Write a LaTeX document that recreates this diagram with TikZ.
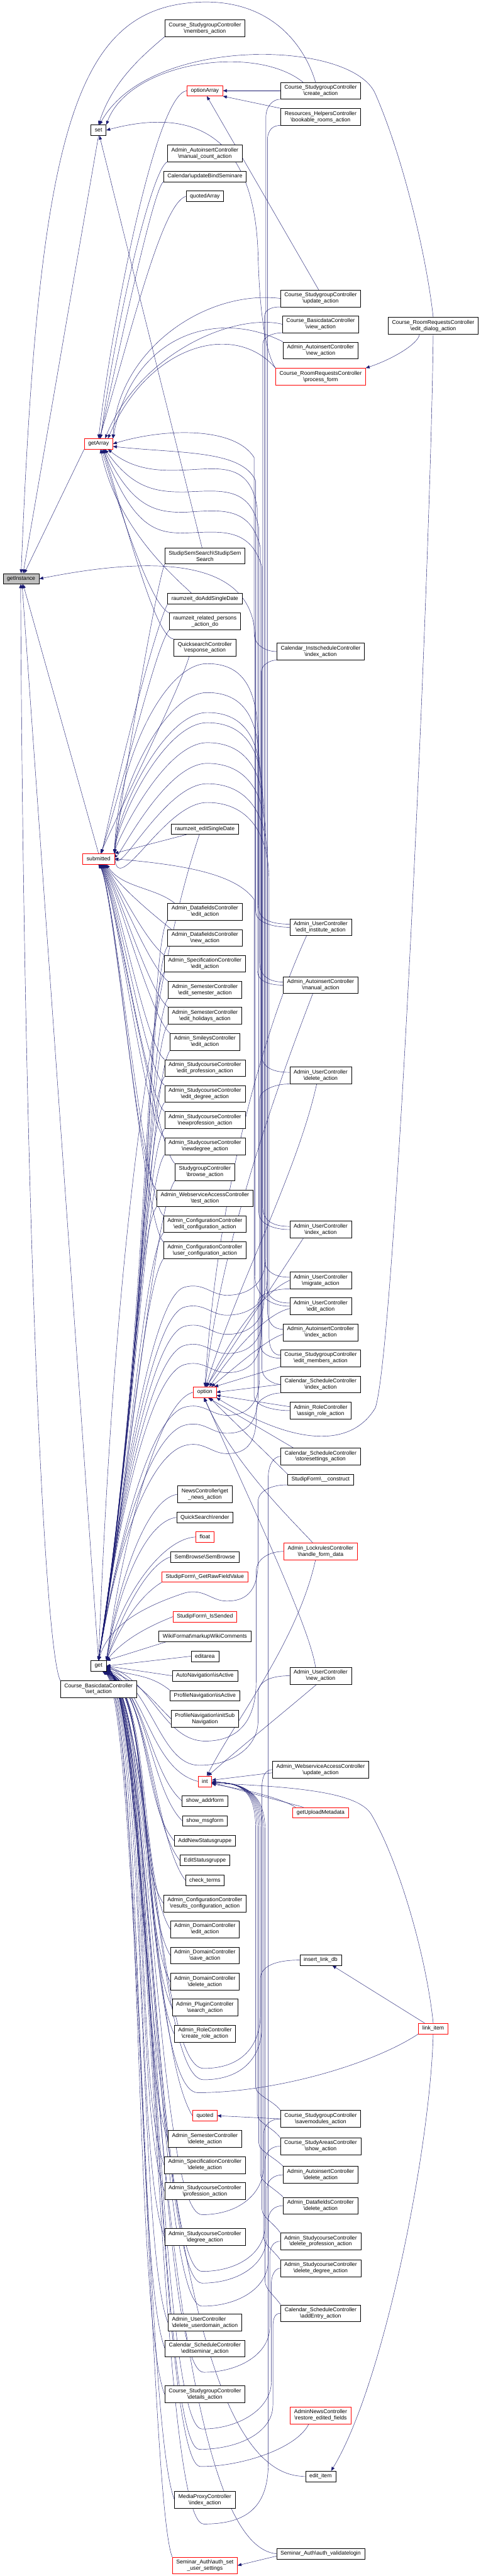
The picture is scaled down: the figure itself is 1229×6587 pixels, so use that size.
\documentclass[tikz,border=0pt]{standalone}
\usepackage{fontspec}
\newfontfamily\dxfont{Liberation Sans}
\usetikzlibrary{arrows.meta, backgrounds}
\definecolor{edgeblue}{RGB}{25,25,112}
\newcommand{\fnbs}{\textbackslash}

\begin{document}
\begin{tikzpicture}[
    x=1pt, y=-1pt,
    >={Triangle[length=10pt, width=8pt]},
    fn/.style={draw, line width=0.9pt, fill=white, align=center, minimum height=27pt,
               font=\dxfont\fontsize{14}{16}\selectfont, inner xsep=10pt, inner ysep=7pt},
    fnred/.style={fn, draw=red},
    fnroot/.style={fn, fill=black!25},
    call/.style={<-, draw=edgeblue, line width=0.7pt},
]
\useasboundingbox (0,0) rectangle (1229,6587);
% === Column 1: the documented function (grey) ===
\node[fnroot] (getInstance) at (54,1480) {getInstance};
% === Column 2: direct callers ===
\node[fn] (set) at (252,333) {set};
\node[fnred] (getArray) at (252,1135) {getArray};
\node[fnred] (submitted) at (252,2196) {submitted};
\node[fn] (get) at (252,4260) {get};
\node[fn] (basicSet) at (252,4319) {Course\_BasicdataController\\\fnbs set\_action};
% === Column 3 ===
\node[fn] (membersAct) at (524,72) {Course\_StudygroupController\\\fnbs members\_action};
\node[fnred] (optionArray) at (524,232) {optionArray};
\node[fn] (manualCount) at (524,392) {Admin\_AutoinsertController\\\fnbs manual\_count\_action};
\node[fn] (updateBind) at (524,451) {Calendar\fnbs updateBindSeminare};
\node[fn] (quotedArray) at (524,502) {quotedArray};
\node[fn] (semSearch) at (524,1422) {StudipSemSearch\fnbs StudipSem\\Search};
\node[fn] (doAddSingle) at (524,1531) {raumzeit\_doAddSingleDate};
\node[fn] (relatedPersons) at (524,1589) {raumzeit\_related\_persons\\\_action\_do};
\node[fn] (quickResponse) at (524,1656) {QuicksearchController\\\fnbs response\_action};
\node[fn] (editSingle) at (524,2120) {raumzeit\_editSingleDate};
\node[fn] (dfEdit) at (524,2331) {Admin\_DatafieldsController\\\fnbs edit\_action};
\node[fn] (dfNew) at (524,2398) {Admin\_DatafieldsController\\\fnbs new\_action};
\node[fn] (specEdit) at (524,2464) {Admin\_SpecificationController\\\fnbs edit\_action};
\node[fn] (semEditSem) at (524,2531) {Admin\_SemesterController\\\fnbs edit\_semester\_action};
\node[fn] (semEditHol) at (524,2597) {Admin\_SemesterController\\\fnbs edit\_holidays\_action};
\node[fn] (smileyEdit) at (524,2664) {Admin\_SmileysController\\\fnbs edit\_action};
\node[fn] (scEditProf) at (524,2731) {Admin\_StudycourseController\\\fnbs edit\_profession\_action};
\node[fn] (scEditDeg) at (524,2797) {Admin\_StudycourseController\\\fnbs edit\_degree\_action};
\node[fn] (scNewProf) at (524,2864) {Admin\_StudycourseController\\\fnbs newprofession\_action};
\node[fn] (scNewDeg) at (524,2931) {Admin\_StudycourseController\\\fnbs newdegree\_action};
\node[fn] (sgBrowse) at (524,2997) {StudygroupController\\\fnbs browse\_action};
\node[fn] (wsTest) at (524,3064) {Admin\_WebserviceAccessController\\\fnbs test\_action};
\node[fn] (cfgEdit) at (524,3130) {Admin\_ConfigurationController\\\fnbs edit\_configuration\_action};
\node[fn] (cfgUser) at (524,3197) {Admin\_ConfigurationController\\\fnbs user\_configuration\_action};
\node[fnred] (option) at (524,3560) {option};
\node[fn] (newsGet) at (524,3821) {NewsController\fnbs get\\\_news\_action};
\node[fn] (qsRender) at (524,3880) {QuickSearch\fnbs render};
\node[fnred] (float) at (524,3930) {float};
\node[fn] (semBrowse) at (524,3981) {SemBrowse\fnbs SemBrowse};
\node[fnred] (rawField) at (524,4032) {StudipForm\fnbs \_GetRawFieldValue};
\node[fnred] (isSended) at (524,4134) {StudipForm\fnbs \_IsSended};
\node[fn] (wikiComments) at (524,4184) {WikiFormat\fnbs markupWikiComments};
\node[fn] (editarea) at (524,4235) {editarea};
\node[fn] (autoActive) at (524,4285) {AutoNavigation\fnbs isActive};
\node[fn] (profActive) at (524,4336) {ProfileNavigation\fnbs isActive};
\node[fn] (profInit) at (524,4395) {ProfileNavigation\fnbs initSub\\Navigation};
\node[fnred] (int) at (524,4555) {int};
\node[fn] (addrform) at (524,4605) {show\_addrform};
\node[fn] (msgform) at (524,4656) {show\_msgform};
\node[fn] (addGroup) at (524,4707) {AddNewStatusgruppe};
\node[fn] (editGroup) at (524,4757) {EditStatusgruppe};
\node[fn] (checkTerms) at (524,4808) {check\_terms};
\node[fn] (cfgResults) at (524,4867) {Admin\_ConfigurationController\\\fnbs results\_configuration\_action};
\node[fn] (domEdit) at (524,4933) {Admin\_DomainController\\\fnbs edit\_action};
\node[fn] (domSave) at (524,5000) {Admin\_DomainController\\\fnbs save\_action};
\node[fn] (domDelete) at (524,5067) {Admin\_DomainController\\\fnbs delete\_action};
\node[fn] (pluginSearch) at (524,5133) {Admin\_PluginController\\\fnbs search\_action};
\node[fn] (roleCreate) at (524,5200) {Admin\_RoleController\\\fnbs create\_role\_action};
\node[fnred] (quoted) at (524,5410) {quoted};
\node[fn] (semDelete) at (524,5469) {Admin\_SemesterController\\\fnbs delete\_action};
\node[fn] (specDelete) at (524,5536) {Admin\_SpecificationController\\\fnbs delete\_action};
\node[fn] (scProf) at (524,5603) {Admin\_StudycourseController\\\fnbs profession\_action};
\node[fn] (scDeg) at (524,5720) {Admin\_StudycourseController\\\fnbs degree\_action};
\node[fn, align=left] (userDomainDel) at (524,5939) {Admin\_UserController\\\fnbs delete\_userdomain\_action};
\node[fn] (schedEditSem) at (524,6005) {Calendar\_ScheduleController\\\fnbs editseminar\_action};
\node[fn] (sgDetails) at (524,6122) {Course\_StudygroupController\\\fnbs details\_action};
\node[fn] (mediaIndex) at (524,6392) {MediaProxyController\\\fnbs index\_action};
\node[fnred] (authSet) at (524,6560) {Seminar\_Auth\fnbs auth\_set\\\_user\_settings};
% === Column 4 ===
\node[fn] (sgCreate) at (820,232) {Course\_StudygroupController\\\fnbs create\_action};
\node[fn] (bookable) at (820,299) {Resources\_HelpersController\\\fnbs bookable\_rooms\_action};
\node[fn] (sgUpdate) at (820,763) {Course\_StudygroupController\\\fnbs update\_action};
\node[fn] (basicView) at (820,829) {Course\_BasicdataController\\\fnbs view\_action};
\node[fn] (aiNew) at (820,896) {Admin\_AutoinsertController\\\fnbs new\_action};
\node[fnred] (processForm) at (820,963) {Course\_RoomRequestsController\\\fnbs process\_form};
\node[fn] (instIndex) at (820,1666) {Calendar\_InstscheduleController\\\fnbs index\_action};
\node[fn] (userEditInst) at (820,2371) {Admin\_UserController\\\fnbs edit\_institute\_action};
\node[fn] (aiManual) at (820,2519) {Admin\_AutoinsertController\\\fnbs manual\_action};
\node[fn] (userDelete) at (820,2750) {Admin\_UserController\\\fnbs delete\_action};
\node[fn] (userIndex) at (820,3144) {Admin\_UserController\\\fnbs index\_action};
\node[fn] (userMigrate) at (820,3274) {Admin\_UserController\\\fnbs migrate\_action};
\node[fn] (userEdit) at (820,3340) {Admin\_UserController\\\fnbs edit\_action};
\node[fn] (aiIndex) at (820,3407) {Admin\_AutoinsertController\\\fnbs index\_action};
\node[fn] (sgEditMembers) at (820,3473) {Course\_StudygroupController\\\fnbs edit\_members\_action};
\node[fn] (schedIndex) at (820,3540) {Calendar\_ScheduleController\\\fnbs index\_action};
\node[fn] (roleAssign) at (820,3607) {Admin\_RoleController\\\fnbs assign\_role\_action};
\node[fn] (schedStore) at (820,3724) {Calendar\_ScheduleController\\\fnbs storesettings\_action};
\node[fn] (formConstruct) at (820,3783) {StudipForm\fnbs \_\_construct};
\node[fnred] (lockHandle) at (820,3967) {Admin\_LockrulesController\\\fnbs handle\_form\_data};
\node[fn] (userNew) at (820,4285) {Admin\_UserController\\\fnbs new\_action};
\node[fn] (wsUpdate) at (820,4525) {Admin\_WebserviceAccessController\\\fnbs update\_action};
\node[fnred] (uploadMeta) at (820,4635) {getUploadMetadata};
\node[fn] (insertLink) at (820,5012) {insert\_link\_db};
\node[fn] (sgSaveModules) at (820,5418) {Course\_StudygroupController\\\fnbs savemodules\_action};
\node[fn] (areasShow) at (820,5488) {Course\_StudyAreasController\\\fnbs show\_action};
\node[fn] (aiDelete) at (820,5561) {Admin\_AutoinsertController\\\fnbs delete\_action};
\node[fn] (dfDelete) at (820,5640) {Admin\_DatafieldsController\\\fnbs delete\_action};
\node[fn] (scDelProf) at (820,5731) {Admin\_StudycourseController\\\fnbs delete\_profession\_action};
\node[fn] (scDelDeg) at (820,5800) {Admin\_StudycourseController\\\fnbs delete\_degree\_action};
\node[fn] (schedAdd) at (820,5915) {Calendar\_ScheduleController\\\fnbs addEntry\_action};
\node[fnred] (newsRestore) at (820,6176) {AdminNewsController\\\fnbs restore\_edited\_fields};
\node[fn] (editItem) at (820,6332) {edit\_item};
\node[fn] (authValidate) at (820,6530) {Seminar\_Auth\fnbs auth\_validatelogin};
% === Column 5 ===
\node[fn] (editDialog) at (1108,833) {Course\_RoomRequestsController\\\fnbs edit\_dialog\_action};
\node[fnred] (linkItem) at (1108,5187) {link\_item};

\begin{scope}[on background layer]
% --- callers of getInstance
\draw[call] (getInstance.70) -- (set.south);
\draw[call] (getInstance.60) -- (getArray.south west);
\draw[call] (getInstance.-70) -- (submitted.north);
\draw[call] (getInstance.-80) -- (get.north);
\draw[call] (getInstance.-95) .. controls (60,3000) and (110,4200) .. (basicSet.north west);
\draw[call] (getInstance.north) .. controls (100,300) and (200,10) .. (525,5) .. controls (700,5) and (780,120) .. ([xshift=-13pt]sgCreate.north);
\draw[call] (getInstance.east) .. controls (400,1420) and (640,1430) .. (652,1620) -- (652,3260) .. controls (652,3320) and (700,3340) .. (userEdit.west);
% --- callers of set
\draw[call] (set.north) .. controls (290,200) and (380,130) .. (membersAct.south west);
\draw[call] (set.north east) .. controls (330,160) and (650,110) .. ([xshift=-45pt]sgCreate.north);
\draw[call] (set.80) .. controls (380,90) and (900,100) .. (960,240) .. controls (1030,400) and (1090,650) .. (editDialog.north);
\draw[call] (set.-80) -- ([xshift=-7pt]semSearch.north);
\draw[call] (set.east) .. controls (470,280) and (650,320) .. (660,650) .. controls (665,850) and (690,920) .. (processForm.north west);
% --- callers of optionArray
\draw[call] (optionArray.east) -- (sgCreate.west);
\draw[call] (optionArray.south east) -- (bookable.north west);
\draw[call] (optionArray.-70) -- ([xshift=-5pt]sgUpdate.north);
% --- callers of getArray
\draw[call] (getArray.north) .. controls (290,800) and (400,240) .. (optionArray.west);
\draw[call] (getArray.70) .. controls (300,800) and (390,430) .. (manualCount.south west);
\draw[call] (getArray.75) .. controls (320,820) and (395,480) .. (updateBind.south west);
\draw[call] (getArray.80) .. controls (340,830) and (415,520) .. (quotedArray.west);
\draw[call] (getArray.-70) .. controls (300,1350) and (440,1470) .. ([xshift=-34pt]doAddSingle.north);
\draw[call] (getArray.-60) .. controls (320,1350) and (390,1550) .. (relatedPersons.north west);
\draw[call] (getArray.-50) .. controls (340,1400) and (400,1630) .. (quickResponse.north west);
\draw[call] (getArray.north east) .. controls (300,900) and (520,740) .. (sgUpdate.west);
\draw[call] (getArray.40) .. controls (360,900) and (600,800) .. (basicView.west);
\draw[call] (getArray.north east) .. controls (340,850) and (560,790) .. (aiNew.north west);
\draw[call] (getArray.30) .. controls (380,880) and (600,820) .. (processForm.north west);
\draw[call] (getArray.east) .. controls (420,1095) and (600,1090) .. (650,1170) -- (650,1620) .. controls (650,1650) and (680,1666) .. (instIndex.west);
\draw[call] (getArray.-10) .. controls (460,1160) and (620,1150) .. (654,1230) -- (654,2330) .. controls (654,2360) and (700,2371) .. (userEditInst.west);
\draw[call] (getArray.-30) .. controls (340,1200) and (400,1205) .. (470,1202) .. controls (560,1198) and (640,1180) .. (658,1300) -- (658,2480) .. controls (658,2510) and (690,2519) .. (aiManual.west);
\draw[call] (getArray.-40) .. controls (340,1250) and (400,1258) .. (470,1258) .. controls (560,1255) and (640,1240) .. (662,1350) -- (662,3100) .. controls (662,3130) and (700,3144) .. (userIndex.west);
\draw[call] (getArray.-45) .. controls (340,1300) and (400,1310) .. (470,1310) .. controls (560,1305) and (640,1290) .. (666,1400) -- (666,3440) .. controls (666,3460) and (690,3473) .. (sgEditMembers.west);
\draw[call] (getArray.-50) .. controls (340,1350) and (400,1363) .. (470,1363) .. controls (560,1360) and (640,1345) .. (670,1450) -- (670,3500) .. controls (670,3525) and (700,3540) .. (schedIndex.west);
% --- callers of submitted
\draw[call] (submitted.north east) .. controls (330,1900) and (400,1500) .. (semSearch.south west);
\draw[call] (submitted.60) .. controls (320,1900) and (400,1600) .. (doAddSingle.south west);
\draw[call] (submitted.65) .. controls (330,1950) and (400,1650) .. (relatedPersons.south west);
\draw[call] (submitted.70) .. controls (340,2000) and (460,1760) .. ([xshift=-40pt]quickResponse.south);
\draw[call] (submitted.north east) -- ([xshift=40pt]editSingle.south west);
\draw[call] (submitted.-35) .. controls +(40,60) and +(-50,-40) .. ([xshift=18pt]dfEdit.north west);
\draw[call] (submitted.-40) .. controls +(40,60) and +(-50,-40) .. ([xshift=10pt]dfNew.north west);
\draw[call] (submitted.-45) .. controls +(40,60) and +(-50,-40) .. (specEdit.north west);
\draw[call] (submitted.-50) .. controls +(40,60) and +(-50,-40) .. (semEditSem.north west);
\draw[call] (submitted.-55) .. controls +(40,60) and +(-50,-40) .. (semEditHol.north west);
\draw[call] (submitted.-60) .. controls +(40,60) and +(-50,-40) .. (smileyEdit.north west);
\draw[call] (submitted.-65) .. controls +(40,60) and +(-50,-40) .. (scEditProf.north west);
\draw[call] (submitted.-70) .. controls +(40,60) and +(-50,-40) .. (scEditDeg.north west);
\draw[call] (submitted.-75) .. controls +(40,60) and +(-50,-40) .. (scNewProf.north west);
\draw[call] (submitted.-80) .. controls +(40,60) and +(-50,-40) .. (scNewDeg.north west);
\draw[call] (submitted.-85) .. controls +(40,60) and +(-50,-40) .. (sgBrowse.north west);
\draw[call] (submitted.-88) .. controls +(40,60) and +(-50,-40) .. (wsTest.north west);
\draw[call] (submitted.-90) .. controls +(40,60) and +(-50,-40) .. (cfgEdit.north west);
\draw[call] (submitted.-92) .. controls +(40,60) and +(-50,-40) .. (cfgUser.north west);
\draw[call] (submitted.north east) .. controls (300,1947) and (420,1697) .. (530,1697) .. controls (620,1697) and (660,1757) .. (660,1897) -- (660,2313) .. controls (660,2348) and (685,2363) .. ([yshift=8pt]userEditInst.west);
\draw[call] (submitted.north east) .. controls (300,2021) and (420,1771) .. (530,1771) .. controls (620,1771) and (664,1831) .. (664,1971) -- (664,2461) .. controls (664,2496) and (689,2511) .. ([yshift=8pt]aiManual.west);
\draw[call] (submitted.north east) .. controls (300,2072) and (420,1822) .. (530,1822) .. controls (620,1822) and (668,1882) .. (668,2022) -- (668,2692) .. controls (668,2727) and (693,2742) .. ([yshift=8pt]userDelete.west);
\draw[call] (submitted.north east) .. controls (300,2098) and (420,1848) .. (530,1848) .. controls (620,1848) and (672,1908) .. (672,2048) -- (672,3086) .. controls (672,3121) and (697,3136) .. ([yshift=8pt]userIndex.west);
\draw[call] (submitted.north east) .. controls (300,2149) and (420,1899) .. (530,1899) .. controls (620,1899) and (676,1959) .. (676,2099) -- (676,3216) .. controls (676,3251) and (701,3266) .. ([yshift=8pt]userMigrate.west);
\draw[call] (submitted.north east) .. controls (300,2202) and (420,1952) .. (530,1952) .. controls (620,1952) and (680,2012) .. (680,2152) -- (680,3282) .. controls (680,3317) and (705,3332) .. ([yshift=8pt]userEdit.west);
\draw[call] (submitted.north east) .. controls (300,2254) and (420,2004) .. (530,2004) .. controls (620,2004) and (684,2064) .. (684,2204) -- (684,3349) .. controls (684,3384) and (700,3399) .. ([yshift=8pt]aiIndex.west);
\draw[call] (submitted.north east) .. controls (300,2302) and (420,2052) .. (530,2052) .. controls (620,2052) and (688,2112) .. (688,2252) -- (688,3415) .. controls (688,3450) and (700,3465) .. ([yshift=8pt]sgEditMembers.west);
\draw[call] (submitted.east) .. controls (450,2210) and (600,2230) .. (650,2300) -- (650,3570) .. controls (650,3595) and (700,3607) .. (roleAssign.west);
% --- callers of get, above it
\draw[call] (get.north) .. controls (300,3000) and (420,2400) .. ([xshift=-14pt]editSingle.south);
\draw[call] (get.north) .. controls +(140,-900) and +(-50,70) .. (dfEdit.south west);
\draw[call] (get.north) .. controls +(135,-880) and +(-50,70) .. (dfNew.south west);
\draw[call] (get.north) .. controls +(130,-860) and +(-50,70) .. (specEdit.south west);
\draw[call] (get.north) .. controls +(125,-840) and +(-50,70) .. (semEditSem.south west);
\draw[call] (get.north) .. controls +(120,-800) and +(-50,70) .. (semEditHol.south west);
\draw[call] (get.north) .. controls +(115,-760) and +(-50,70) .. (smileyEdit.south west);
\draw[call] (get.north) .. controls +(110,-720) and +(-50,70) .. (scEditProf.south west);
\draw[call] (get.north) .. controls +(105,-680) and +(-50,70) .. (scEditDeg.south west);
\draw[call] (get.north) .. controls +(100,-640) and +(-50,70) .. (scNewProf.south west);
\draw[call] (get.north) .. controls +(95,-600) and +(-50,70) .. (scNewDeg.south west);
\draw[call] (get.north) .. controls +(90,-560) and +(-50,70) .. (sgBrowse.south west);
\draw[call] (get.north) .. controls +(85,-520) and +(-50,70) .. (wsTest.south west);
\draw[call] (get.north) .. controls +(80,-480) and +(-50,70) .. (cfgEdit.south west);
\draw[call] (get.north) .. controls +(75,-440) and +(-50,70) .. (cfgUser.south west);
\draw[call] (get.north east) .. controls +(40,-300) and +(-90,20) .. (option.west);
\draw[call] (get.north east) .. controls +(30,-200) and +(-80,10) .. (newsGet.west);
\draw[call] (get.north east) .. controls +(30,-180) and +(-80,10) .. (qsRender.west);
\draw[call] (get.north east) .. controls +(30,-150) and +(-90,5) .. (float.west);
\draw[call] (get.north east) .. controls +(40,-120) and +(-60,20) .. (semBrowse.west);
\draw[call] (get.north east) .. controls +(40,-100) and +(-50,30) .. (rawField.south west);
\draw[call] (get.north east) .. controls +(50,-60) and +(-50,20) .. (isSended.west);
\draw[call] (get.north east) -- ([xshift=20pt]wikiComments.south west);
\draw[call] (get.east) -- (editarea.west);
% --- callers of get, below it
\draw[call] (get.east) -- (autoActive.west);
\draw[call] (get.-15) .. controls +(70,20) and +(-50,-40) .. (profActive.north west);
\draw[call] (get.-20) .. controls +(90,40) and +(-60,-60) .. (profInit.west);
\draw[call] (get.-25) .. controls +(100,50) and +(-120,-30) .. (int.west);
\draw[call] (get.-30) .. controls +(100,60) and +(-80,-70) .. (addrform.west);
\draw[call] (get.-30) .. controls +(105,60) and +(-80,-80) .. (msgform.west);
\draw[call] (get.-32) .. controls +(110,60) and +(-80,-90) .. (addGroup.west);
\draw[call] (get.-34) .. controls +(110,60) and +(-80,-100) .. (editGroup.west);
\draw[call] (get.-36) .. controls +(115,60) and +(-80,-110) .. (checkTerms.west);
\draw[call] (get.-38) .. controls +(115,60) and +(-80,-120) .. (cfgResults.west);
\draw[call] (get.-40) .. controls +(120,60) and +(-80,-130) .. (domEdit.west);
\draw[call] (get.-40) .. controls +(120,60) and +(-80,-140) .. (domSave.west);
\draw[call] (get.-42) .. controls +(125,60) and +(-80,-150) .. (domDelete.west);
\draw[call] (get.-42) .. controls +(125,60) and +(-80,-160) .. (pluginSearch.west);
\draw[call] (get.-44) .. controls +(130,60) and +(-80,-170) .. (roleCreate.west);
\draw[call] (get.-44) .. controls +(120,60) and +(-110,-180) .. (quoted.west);
\draw[call] (get.-46) .. controls +(130,60) and +(-80,-190) .. (semDelete.west);
\draw[call] (get.-46) .. controls +(125,60) and +(-80,-200) .. (specDelete.west);
\draw[call] (get.-48) .. controls +(120,60) and +(-80,-200) .. (scProf.west);
\draw[call] (get.-48) .. controls +(115,60) and +(-80,-200) .. (scDeg.west);
\draw[call] (get.-50) .. controls +(110,60) and +(-80,-200) .. (userDomainDel.west);
\draw[call] (get.-50) .. controls +(105,60) and +(-80,-200) .. (schedEditSem.west);
\draw[call] (get.-52) .. controls +(100,60) and +(-80,-200) .. (sgDetails.west);
\draw[call] (get.-52) .. controls +(95,60) and +(-80,-200) .. (mediaIndex.west);
\draw[call] (get.-54) .. controls +(90,60) and +(-60,-150) .. (authSet.north west);
% --- column 4 callers of get, routed through column 3
\draw[call] (get.north) .. controls (300,3900) and (380,3322) .. (470,3292) .. controls (520,3277) and (540,3312) .. (580,3312) .. controls (625,3312) and (680,3292) .. (680,3212) -- (680,300) .. controls (680,270) and (700,253) .. (sgCreate.south west);
\draw[call] (get.north) .. controls (300,3900) and (380,3373) .. (470,3343) .. controls (520,3328) and (540,3363) .. (580,3363) .. controls (625,3363) and (684,3343) .. (684,3263) -- (684,360) .. controls (684,330) and (700,320) .. (bookable.south west);
\draw[call] (get.north) .. controls (300,3900) and (380,3422) .. (470,3392) .. controls (520,3377) and (540,3412) .. (580,3412) .. controls (625,3412) and (676,3392) .. (676,3312) -- (676,810) .. controls (676,790) and (700,784) .. (sgUpdate.south west);
\draw[call] (get.north) .. controls (300,3900) and (380,3471) .. (470,3441) .. controls (520,3426) and (540,3461) .. (580,3461) .. controls (625,3461) and (672,3441) .. (672,3361) -- (672,880) .. controls (672,860) and (700,851) .. (basicView.south west);
\draw[call] (get.north) .. controls (300,3900) and (380,3520) .. (470,3490) .. controls (520,3475) and (540,3510) .. (580,3510) .. controls (625,3510) and (668,3490) .. (668,3410) -- (668,1720) .. controls (668,1700) and (690,1688) .. (instIndex.south west);
\draw[call] (get.north) .. controls (300,3950) and (380,3629) .. (470,3599) .. controls (520,3584) and (540,3619) .. (580,3619) .. controls (625,3619) and (664,3599) .. (664,3519) -- (664,2810) .. controls (664,2790) and (700,2771) .. (userDelete.south west);
\draw[call] (get.north) .. controls (300,3950) and (380,3675) .. (470,3645) .. controls (520,3630) and (540,3665) .. (580,3665) .. controls (625,3665) and (660,3645) .. (660,3565) -- (660,3330) .. controls (660,3310) and (700,3295) .. (userMigrate.south west);
\draw[call] (get.north) .. controls (300,3950) and (380,3727) .. (470,3697) .. controls (520,3682) and (540,3717) .. (580,3717) .. controls (625,3717) and (656,3697) .. (656,3617) -- (656,3600) .. controls (656,3580) and (690,3562) .. (schedIndex.south west);
\draw[call] (get.north) .. controls (280,4150) and (380,4104) .. (470,4074) .. controls (520,4059) and (540,4094) .. (580,4094) .. controls (625,4094) and (660,4074) .. (660,3994) -- (660,3840) .. controls (660,3810) and (700,3796) .. (formConstruct.south west);
\draw[call] (get.east) .. controls (390,4300) and (420,4452) .. (525,4452) .. controls (610,4452) and (655,4400) .. (655,4300) -- (655,4020) .. controls (655,3985) and (690,3967) .. (lockHandle.west);
\draw[call] (get.east) .. controls (390,4320) and (410,4514) .. (510,4514) .. controls (590,4514) and (660,4470) .. (660,4400) -- (660,4330) .. controls (660,4300) and (690,4285) .. (userNew.west);
\draw[call] (get.east) .. controls (390,4400) and (400,5289) .. (521,5289) .. controls (620,5289) and (666,5230) .. (666,5150) -- (666,5060) .. controls (666,5030) and (700,5012) .. (insertLink.west);
\draw[call] (get.east) .. controls (390,4400) and (400,5318) .. (521,5318) .. controls (620,5318) and (670,5260) .. (670,5180) -- (670,4570) .. controls (670,4540) and (680,4525) .. (wsUpdate.west);
\draw[call] (get.east) .. controls (390,4400) and (380,5351) .. (506,5351) .. controls (700,5351) and (950,5280) .. (linkItem.south west);
\draw[call] (get.east) .. controls (390,4400) and (400,5663) .. (517,5663) .. controls (610,5663) and (674,5610) .. (674,5540) -- (674,5460) .. controls (674,5430) and (695,5418) .. (sgSaveModules.west);
\draw[call] (get.east) .. controls (390,4400) and (400,5808) .. (517,5808) .. controls (610,5808) and (678,5760) .. (678,5690) -- (678,5530) .. controls (678,5500) and (695,5488) .. (areasShow.west);
\draw[call] (get.east) .. controls (390,4400) and (400,5838) .. (517,5838) .. controls (610,5838) and (682,5790) .. (682,5720) -- (682,5600) .. controls (682,5575) and (700,5561) .. (aiDelete.west);
\draw[call] (get.east) .. controls (390,4400) and (400,5897) .. (517,5897) .. controls (610,5897) and (686,5850) .. (686,5780) -- (686,5680) .. controls (686,5655) and (700,5640) .. (dfDelete.west);
\draw[call] (get.east) .. controls (390,4400) and (400,6066) .. (521,6066) .. controls (610,6066) and (690,6020) .. (690,5950) -- (690,5770) .. controls (690,5745) and (700,5731) .. (scDelProf.west);
\draw[call] (get.east) .. controls (390,4400) and (400,6211) .. (517,6211) .. controls (610,6211) and (694,6160) .. (694,6090) -- (694,5840) .. controls (694,5815) and (705,5800) .. (scDelDeg.west);
\draw[call] (get.east) .. controls (390,4400) and (400,6263) .. (510,6263) .. controls (610,6263) and (698,6220) .. (698,6150) -- (698,5950) .. controls (698,5925) and (705,5915) .. (schedAdd.west);
\draw[call] (get.east) .. controls (390,4400) and (400,6307) .. (513,6307) .. controls (620,6307) and (760,6260) .. ([xshift=-30pt]newsRestore.south);
\draw[call] (get.east) .. controls (390,4400) and (400,6454) .. (521,6454) .. controls (620,6454) and (686,6420) .. (686,6300) -- (686,3780) .. controls (686,3745) and (700,3724) .. (schedStore.west);
\draw[call] (get.east) .. controls (390,4400) and (360,6340) .. (editItem.west);
\draw[call] (get.east) .. controls (390,4400) and (380,6500) .. (authValidate.west);
% --- callers of option
\draw[call] (option.50) .. controls (600,3450) and (680,3360) .. ([yshift=-6pt]userEdit.west);
\draw[call] (option.40) .. controls (620,3480) and (690,3420) .. ([yshift=-5pt]aiIndex.west);
\draw[call] (option.30) -- (sgEditMembers.south west);
\draw[call] (option.east) -- (schedIndex.west);
\draw[call] (option.-15) -- ([yshift=10pt]roleAssign.west);
\draw[call] (option.-25) .. controls (760,3700) and (900,3700) .. (960,3600) .. controls (1010,3450) and (1100,1500) .. (editDialog.south);
\draw[call] (option.70) .. controls (600,3400) and (680,3300) .. (userMigrate.west);
\draw[call] (option.75) -- ([xshift=-44pt]userIndex.south);
\draw[call] (option.80) .. controls (600,3300) and (760,3000) .. ([xshift=-10pt]userDelete.south);
\draw[call] (option.85) .. controls (560,3200) and (700,2800) .. ([xshift=-20pt]aiManual.south);
\draw[call] (option.90) .. controls (560,3000) and (690,2600) .. ([xshift=-36pt]userEditInst.south);
\draw[call] (option.-60) -- ([xshift=-70pt]schedStore.north);
\draw[call] (option.-50) -- (formConstruct.north west);
\draw[call] (option.-100) .. controls (600,3750) and (760,3900) .. ([xshift=-20pt]lockHandle.north);
\draw[call] (option.-95) .. controls (620,3800) and (790,4150) .. ([xshift=-13pt]userNew.north);
% --- callers of int and quoted
\draw[call] (quoted.east) -- (sgSaveModules.west);
\draw[call] (int.10) -- ([yshift=-8pt]wsUpdate.west);
\draw[call] (int.-20) .. controls (650,4580) and (720,4600) .. ([xshift=-64pt]uploadMeta.north);
\draw[call] (int.-10) -- ([xshift=-44pt]uploadMeta.north);
\draw[call] (int.-15) .. controls (800,4570) and (920,4590) .. (950,4640) .. controls (1020,4760) and (1090,5000) .. (linkItem.north);
\draw[call] (int.70) .. controls (600,4400) and (760,4200) .. ([xshift=-13pt]lockHandle.south);
\draw[call] (int.60) .. controls (600,4480) and (700,4400) .. ([xshift=-10pt]userNew.south);
\draw[call] (int.-5) .. controls (620,4560) and (654,4580) .. (654,4680) -- (654,5337) .. controls (654,5357) and (700,5372) .. (sgSaveModules.north west);
\draw[call] (int.-5) .. controls (620,4560) and (658,4580) .. (658,4680) -- (658,5407) .. controls (658,5427) and (700,5442) .. (areasShow.north west);
\draw[call] (int.-5) .. controls (620,4560) and (662,4580) .. (662,4680) -- (662,5480) .. controls (662,5500) and (700,5515) .. (aiDelete.north west);
\draw[call] (int.-5) .. controls (620,4560) and (666,4580) .. (666,4680) -- (666,5559) .. controls (666,5579) and (700,5594) .. (dfDelete.north west);
\draw[call] (int.-5) .. controls (620,4560) and (670,4580) .. (670,4680) -- (670,5649) .. controls (670,5669) and (700,5684) .. (scDelProf.north west);
\draw[call] (int.-5) .. controls (620,4560) and (674,4580) .. (674,4680) -- (674,5719) .. controls (674,5739) and (700,5754) .. (scDelDeg.north west);
\draw[call] (int.-5) .. controls (620,4560) and (678,4580) .. (678,4680) -- (678,5833) .. controls (678,5853) and (700,5868) .. (schedAdd.north west);
% --- remaining calls among the outer columns
\draw[call] (processForm.north east) .. controls (1000,920) and (1070,880) .. ([xshift=-35pt]editDialog.south);
\draw[call] ([xshift=30pt]insertLink.south) -- ([xshift=-22pt]linkItem.north);
\draw[call] ([xshift=27pt]editItem.north) .. controls (980,6100) and (1100,5500) .. (linkItem.south);
\draw[call] (authSet.east) -- ([yshift=-6pt]authValidate.west);
\end{scope}
\end{tikzpicture}
\end{document}
